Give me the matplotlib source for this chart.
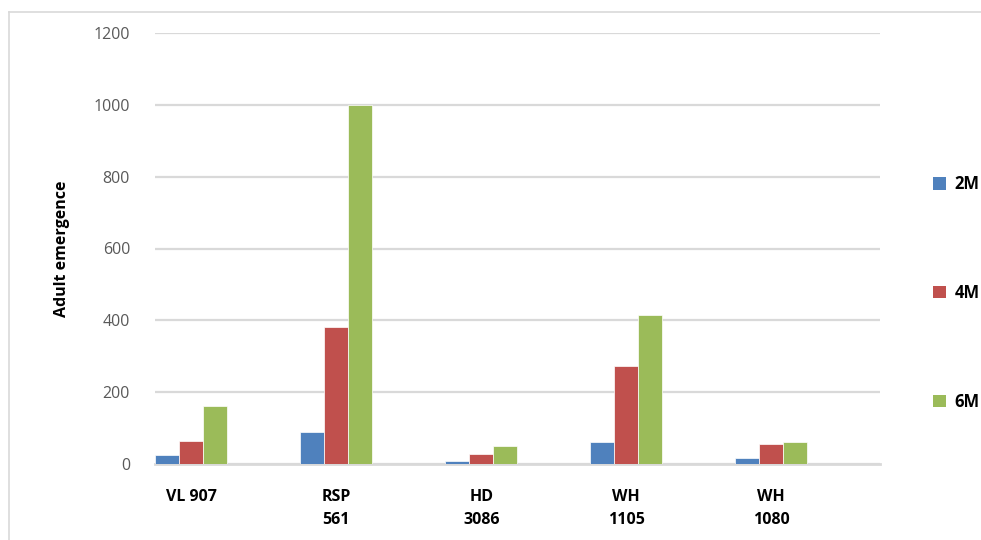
import numpy as np
import matplotlib.pyplot as plt
from matplotlib.lines import Line2D
from matplotlib.patches import Patch

categories = ["VL 907", "RSP\n561", "HD\n3086", "WH\n1105", "WH\n1080"]
series_names = ["2M", "4M", "6M"]
vals_2m = [25, 89, 8, 61, 17]
vals_4m = [64, 382, 28, 273, 56]
vals_6m = [161, 1000, 50, 415, 61]
colors = ["#4F81BD", "#C0504D", "#9BBB59"]

plt.rcParams['font.family'] = ['Open Sans', 'DejaVu Sans']

fig = plt.figure(figsize=(9.81, 5.4), dpi=100)
ax = fig.add_axes([155 / 981, 1 - 464 / 540, 725 / 981, 431 / 540])

x = np.arange(len(categories))
w = 0.166
for k, vals in enumerate([vals_2m, vals_4m, vals_6m]):
    ax.bar(x + (k - 1) * w, vals, w, color=colors[k], edgecolor='white',
           linewidth=0.5, label=series_names[k], zorder=3)

ax.set_xlim(-0.25, 4.75)
ax.set_ylim(0, 1200)
ax.set_yticks(np.arange(0, 1201, 200))
ax.yaxis.grid(True, color='#D9D9D9', linewidth=1.6, zorder=0)
ax.set_axisbelow(True)
for s in ['top', 'right', 'left']:
    ax.spines[s].set_visible(False)
ax.spines['bottom'].set_color('#D9D9D9')
ax.spines['bottom'].set_linewidth(2)
ax.tick_params(axis='y', length=0, pad=18, labelsize=11.5, labelcolor='#595959')
ax.tick_params(axis='x', length=0, pad=18)
ax.set_xticks(x)
ax.set_xticklabels(categories, fontsize=11.5, fontweight='bold', color='black',
                   linespacing=1.6, va='top', ha='center')

ax.set_ylabel("Adult emergence", fontsize=11.5, fontweight='bold', labelpad=17)

handles = [Patch(facecolor=c) for c in colors]
fig.legend(handles, series_names, loc='upper left', bbox_to_anchor=(918 / 981, 1 - 160 / 540),
           frameon=False, labelspacing=5.45, handlelength=0.8, handleheight=0.8,
           handletextpad=0.5, prop={'weight': 'bold', 'size': 12})

# outer chart border
fig.add_artist(Line2D([9 / 981, 1], [1 - 12 / 540, 1 - 12 / 540], color='#D9D9D9', linewidth=1.2))
fig.add_artist(Line2D([9 / 981, 9 / 981], [0, 1 - 12 / 540], color='#D9D9D9', linewidth=1.2))

fig.savefig("out.png", dpi=100)
